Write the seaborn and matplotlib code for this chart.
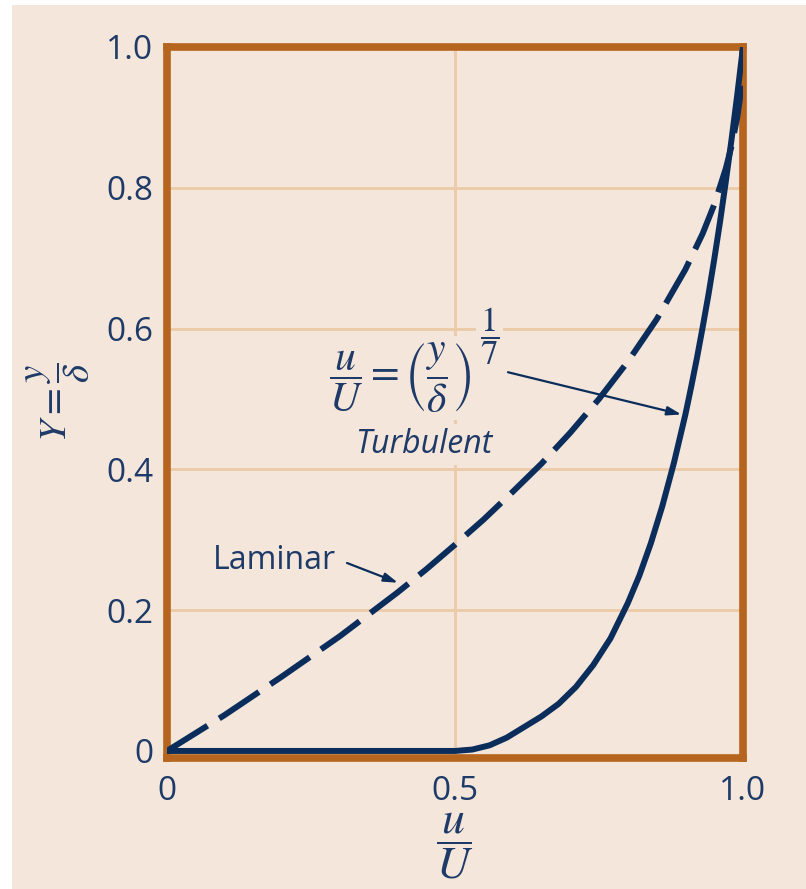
import matplotlib
matplotlib.use("Agg")
import matplotlib.pyplot as plt
from matplotlib.patches import Rectangle
import pandas as pd
import seaborn as sns

# Velocity ratio u/U and boundary-layer height Y = y/delta for each profile
laminar_u = [0.0, 0.1, 0.2, 0.3, 0.4, 0.45, 0.5, 0.55, 0.6, 0.65, 0.7, 0.75, 0.8, 0.85, 0.9,
             0.93, 0.95, 0.97, 0.98, 0.99, 0.995, 1.0]
laminar_y = [0.0, 0.051, 0.106, 0.163, 0.225, 0.258, 0.293, 0.329, 0.368, 0.408, 0.452, 0.5,
             0.553, 0.613, 0.684, 0.735, 0.776, 0.827, 0.859, 0.9, 0.929, 1.0]

turbulent_u = [0.0, 0.5, 0.53, 0.56, 0.59, 0.62, 0.65, 0.68, 0.71, 0.74, 0.77, 0.8, 0.82, 0.84,
               0.86, 0.88, 0.9, 0.91, 0.92, 0.93, 0.94, 0.95, 0.96, 0.97, 0.98, 0.99, 1.0]
turbulent_y = [0.0, 0.0, 0.002, 0.008, 0.019, 0.034, 0.049, 0.067, 0.091, 0.122, 0.160, 0.21,
               0.249, 0.295, 0.348, 0.409, 0.478, 0.517, 0.558, 0.602, 0.648, 0.698, 0.751,
               0.808, 0.868, 0.932, 1.0]

x_ticks = [0, 0.5, 1.0]
x_tick_labels = ["0", "0.5", "1.0"]
y_ticks = [0, 0.2, 0.4, 0.6, 0.8, 1.0]
y_tick_labels = ["0", "0.2", "0.4", "0.6", "0.8", "1.0"]

BG = "#f4e6da"
FRAME = "#b5651d"
GRID = "#ebcaa8"
NAVY = "#0b2d5c"
TEXT = "#1e3a68"

sns.set_theme(style="white")
plt.rcParams["font.family"] = ["Open Sans", "DejaVu Sans"]
plt.rcParams["mathtext.fontset"] = "stix"

laminar = pd.DataFrame({"u": laminar_u, "Y": laminar_y})
turbulent = pd.DataFrame({"u": turbulent_u, "Y": turbulent_y})

fig = plt.figure(figsize=(8.06, 8.89), dpi=100, facecolor="white")
fig.patches.append(Rectangle((12 / 806, 0), 1, 1 - 5 / 889, transform=fig.transFigure,
                             facecolor=BG, edgecolor="none", zorder=-10))
ax = fig.add_axes([167 / 806, 1 - 758 / 889, 576 / 806, 711 / 889])
ax.set_facecolor(BG)

sns.lineplot(data=laminar, x="u", y="Y", ax=ax, sort=False, estimator=None,
             color=NAVY, linewidth=4.3, linestyle=(0, (8, 2.3)),
             solid_capstyle="butt", dash_capstyle="butt", zorder=3)
sns.lineplot(data=turbulent, x="u", y="Y", ax=ax, sort=False, estimator=None,
             color=NAVY, linewidth=4.3, solid_joinstyle="round", zorder=3)

ax.set_xlim(0, 1)
ax.set_ylim(-0.01, 1.0)
ax.set_xticks(x_ticks)
ax.set_xticklabels(x_tick_labels)
ax.set_yticks(y_ticks)
ax.set_yticklabels(y_tick_labels)
ax.tick_params(axis="both", length=0, labelsize=24, labelcolor=TEXT)
ax.tick_params(axis="x", pad=12)
ax.tick_params(axis="y", pad=10)

# light grid lines at the inner ticks only
for xv in [0.5]:
    ax.axvline(xv, color=GRID, linewidth=2, zorder=1)
for yv in [0.2, 0.4, 0.6, 0.8]:
    ax.axhline(yv, color=GRID, linewidth=2, zorder=1)

for side in ax.spines.values():
    side.set_visible(True)
    side.set_color(FRAME)
    side.set_linewidth(5.5)
    side.set_zorder(2)

ax.set_xlabel(r"$\dfrac{u}{U}$", fontsize=33, color=TEXT, labelpad=2)
ax.set_ylabel(r"$Y = \dfrac{y}{\delta}$", fontsize=28, color=TEXT, labelpad=10)

box = dict(boxstyle="square,pad=0.12", facecolor=BG, edgecolor="none")

ax.text(0.405, 0.53, r"$\dfrac{u}{U} = \left(\dfrac{y}{\delta}\right)$", fontsize=30,
        color=TEXT, ha="center", va="center", bbox=box, zorder=4)
ax.text(0.56, 0.59, r"$\dfrac{1}{7}$", fontsize=25, color=TEXT,
        ha="center", va="center", bbox=dict(boxstyle="square,pad=0.12", facecolor=BG, edgecolor="none"),
        zorder=4)
ax.text(0.446, 0.435, "Turbulent", fontsize=23, style="italic", color=TEXT,
        ha="center", va="center", bbox=box, zorder=4)
ax.text(0.186, 0.271, "Laminar", fontsize=23, color=TEXT, ha="center", va="center", zorder=4)

arrow = dict(arrowstyle="-|>,head_length=0.7,head_width=0.22", color=NAVY, lw=1.6,
             shrinkA=0, shrinkB=0)
ax.annotate("", xy=(0.401, 0.239), xytext=(0.3125, 0.267), arrowprops=arrow, zorder=5)
ax.annotate("", xy=(0.893, 0.478), xytext=(0.592, 0.538), arrowprops=arrow, zorder=5)

fig.savefig("out.png", dpi=100, facecolor=fig.get_facecolor())
